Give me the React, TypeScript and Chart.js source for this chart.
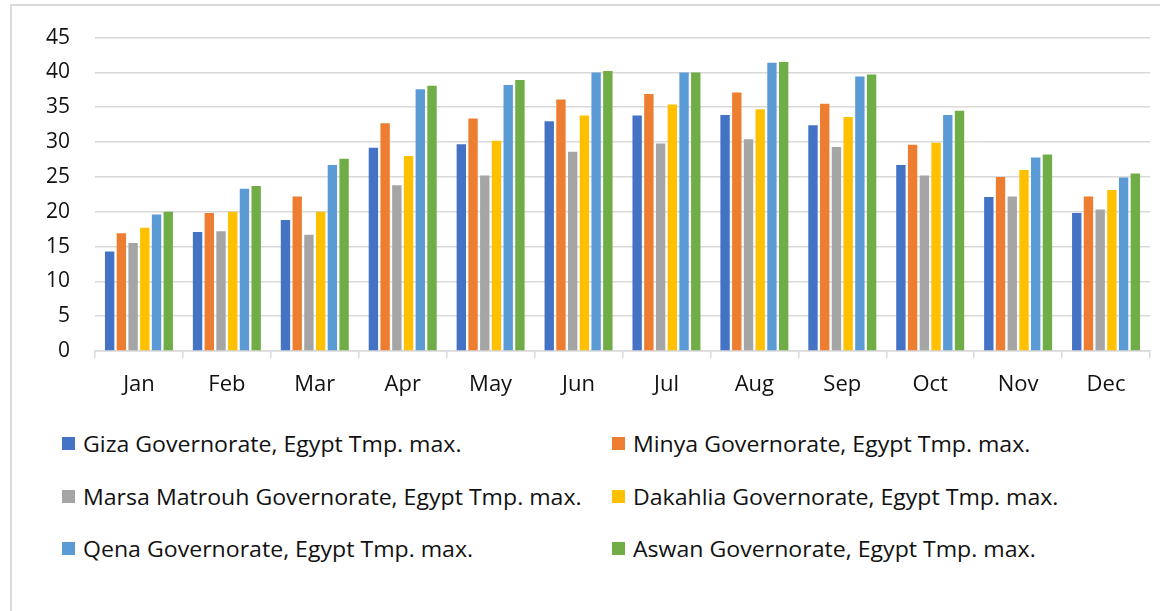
import React, { useEffect, useRef } from "react";
import { Chart, registerables } from "chart.js";

Chart.register(...registerables);

const months = ["Jan", "Feb", "Mar", "Apr", "May", "Jun", "Jul", "Aug", "Sep", "Oct", "Nov", "Dec"];
const yTicks = [0, 5, 10, 15, 20, 25, 30, 35, 40, 45];

const giza = [14.3, 17.1, 18.8, 29.2, 29.7, 33.0, 33.8, 33.9, 32.4, 26.7, 22.1, 19.8];
const minya = [16.9, 19.8, 22.2, 32.7, 33.4, 36.1, 36.9, 37.1, 35.5, 29.6, 25.0, 22.2];
const marsaMatrouh = [15.5, 17.2, 16.7, 23.8, 25.2, 28.6, 29.8, 30.4, 29.3, 25.2, 22.2, 20.3];
const dakahlia = [17.7, 20.0, 20.0, 28.0, 30.2, 33.8, 35.4, 34.7, 33.6, 29.9, 26.0, 23.1];
const qena = [19.6, 23.3, 26.7, 37.6, 38.2, 40.0, 40.0, 41.4, 39.4, 33.9, 27.8, 24.9];
const aswan = [20.0, 23.7, 27.6, 38.1, 38.9, 40.2, 40.0, 41.5, 39.7, 34.5, 28.2, 25.5];

const seriesNames = [
  "Giza Governorate, Egypt Tmp. max.",
  "Minya Governorate, Egypt Tmp. max.",
  "Marsa Matrouh Governorate, Egypt Tmp. max.",
  "Dakahlia Governorate, Egypt Tmp. max.",
  "Qena Governorate, Egypt Tmp. max.",
  "Aswan Governorate, Egypt Tmp. max.",
];
const seriesColors = ["#4472C4", "#ED7D31", "#A5A5A5", "#FFC000", "#5B9BD5", "#70AD47"];
const seriesValues = [giza, minya, marsaMatrouh, dakahlia, qena, aswan];

const FONT = "'Open Sans', Lato, sans-serif";

export default function App() {
  const ref = useRef<HTMLCanvasElement | null>(null);

  useEffect(() => {
    if (!ref.current) return;
    const chart = new Chart(ref.current, {
      type: "bar",
      data: {
        labels: months,
        datasets: seriesValues.map((vals, i) => ({
          label: seriesNames[i],
          data: vals,
          backgroundColor: seriesColors[i],
          borderWidth: 0,
          categoryPercentage: 0.8,
          barPercentage: 0.8,
        })),
      },
      options: {
        animation: false,
        responsive: false,
        maintainAspectRatio: false,
        layout: { padding: { left: 0, right: 10, top: 37, bottom: 0 } },
        plugins: {
          legend: { display: false },
          tooltip: { enabled: false },
          title: { display: false },
        },
        scales: {
          x: {
            grid: {
              display: true,
              offset: true,
              drawOnChartArea: false,
              drawTicks: true,
              tickLength: 7,
              color: "#d9d9d9",
              lineWidth: 1.5,
            },
            border: { display: true, color: "#d9d9d9", width: 1.5 },
            ticks: {
              color: "#111",
              font: { family: FONT, size: 22 },
              padding: 14,
              maxRotation: 0,
            },
            afterFit: (scale: any) => {
              scale.height = 69;
            },
          },
          y: {
            min: 0,
            max: 45,
            afterBuildTicks: (scale: any) => {
              scale.ticks = yTicks.map((v) => ({ value: v }));
            },
            grid: {
              display: true,
              drawTicks: false,
              color: "#d9d9d9",
              lineWidth: 1.5,
            },
            border: { display: false },
            ticks: {
              color: "#111",
              font: { family: FONT, size: 21 },
              padding: 25,
            },
            afterFit: (scale: any) => {
              scale.width = 95;
            },
          },
        },
      },
    });
    return () => chart.destroy();
  }, []);

  const legendRows = [
    [0, 1],
    [2, 3],
    [4, 5],
  ];
  const rowTops = [437, 490, 542];
  const colLefts = [62, 612];

  return (
    <div
      style={{
        position: "fixed",
        left: 0,
        top: 0,
        width: 1160,
        height: 611,
        overflow: "hidden",
        background: "#fff",
      }}
    >
      <div
        style={{
          position: "absolute",
          left: 10,
          top: 4,
          width: 1200,
          height: 700,
          borderTop: "2px solid #dadada",
          borderLeft: "2px solid #dadada",
        }}
      />
      <canvas
        ref={ref}
        width={1160}
        height={420}
        style={{ position: "absolute", left: 0, top: 0, width: 1160, height: 420 }}
      />
      {legendRows.map((row, ri) =>
        row.map((si, ci) => (
          <div
            key={si}
            style={{
              position: "absolute",
              left: colLefts[ci],
              top: rowTops[ri],
              height: 13,
              display: "flex",
              alignItems: "center",
              whiteSpace: "nowrap",
              fontFamily: FONT,
              fontSize: 21,
              color: "#111",
            }}
          >
            <span
              style={{
                display: "inline-block",
                width: 13,
                height: 13,
                background: seriesColors[si],
                marginRight: 8,
                flex: "none",
              }}
            />
            <span
              style={{
                lineHeight: "13px",
                position: "relative",
                top: 1,
                display: "inline-block",
                transform: "scaleX(1.1)",
                transformOrigin: "left center",
              }}
            >
              {seriesNames[si]}
            </span>
          </div>
        ))
      )}
    </div>
  );
}
